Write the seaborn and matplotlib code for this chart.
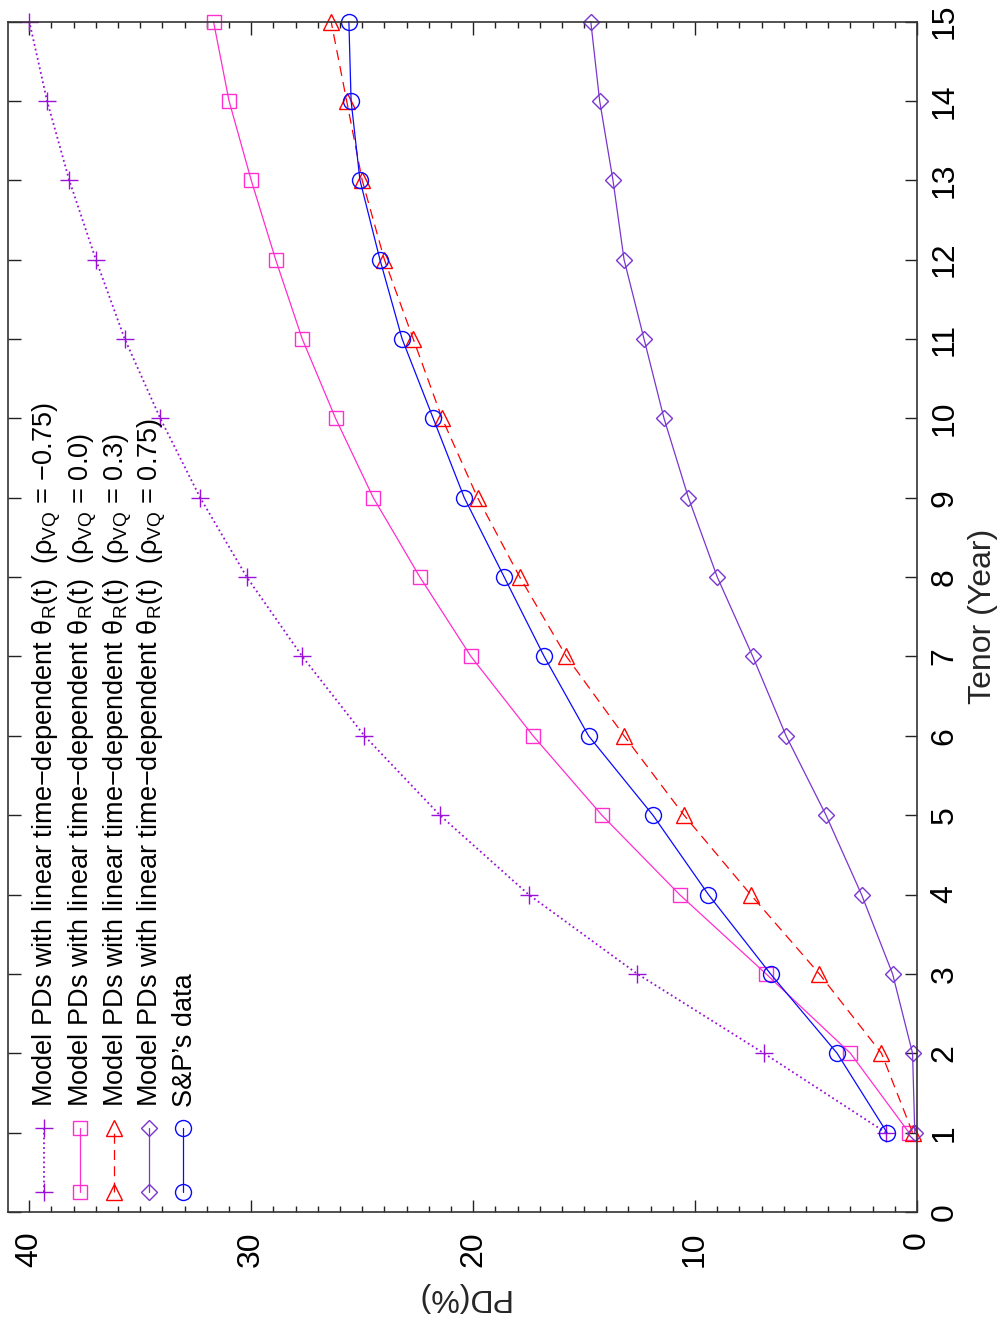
import numpy as np
import pandas as pd
import matplotlib
matplotlib.use("Agg")
import matplotlib.pyplot as plt
from matplotlib.lines import Line2D
from matplotlib.ticker import MultipleLocator
import seaborn as sns

# ---------------- data ----------------
tenor = [1, 2, 3, 4, 5, 6, 7, 8, 9, 10, 11, 12, 13, 14, 15]
pd_rho_m075 = [1.4, 6.9, 12.6, 17.5, 21.5, 24.9, 27.7, 30.2, 32.3, 34.1, 35.7, 37.0, 38.2, 39.2, 40.0]
pd_rho_000 = [0.36, 3.0, 6.8, 10.7, 14.2, 17.3, 20.1, 22.4, 24.5, 26.2, 27.7, 28.9, 30.0, 31.0, 31.7]
pd_rho_030 = [0.2, 1.6, 4.4, 7.5, 10.5, 13.2, 15.8, 17.9, 19.8, 21.4, 22.7, 24.0, 25.0, 25.7, 26.4]
pd_rho_075 = [0.1, 0.2, 1.1, 2.5, 4.1, 5.9, 7.4, 9.0, 10.3, 11.4, 12.3, 13.2, 13.7, 14.3, 14.7]
pd_sp_data = [1.35, 3.6, 6.6, 9.4, 11.9, 14.8, 16.8, 18.6, 20.4, 21.8, 23.2, 24.2, 25.1, 25.5, 25.6]

labels = [
    r"Model PDs with linear time−dependent θ$_{\mathrm{R}}$(t)  (ρ$_{\mathrm{VQ}}$ = −0.75)",
    r"Model PDs with linear time−dependent θ$_{\mathrm{R}}$(t)  (ρ$_{\mathrm{VQ}}$ = 0.0)",
    r"Model PDs with linear time−dependent θ$_{\mathrm{R}}$(t)  (ρ$_{\mathrm{VQ}}$ = 0.3)",
    r"Model PDs with linear time−dependent θ$_{\mathrm{R}}$(t)  (ρ$_{\mathrm{VQ}}$ = 0.75)",
    "S&P’s data",
]
pd_ticks = [0, 10, 20, 30, 40]
tenor_ticks = list(range(0, 16))

# ---------------- style ----------------
sns.set_style("ticks")
plt.rcParams["font.family"] = ["Liberation Sans", "DejaVu Sans"]
plt.rcParams["mathtext.fontset"] = "custom"
plt.rcParams["mathtext.rm"] = "Liberation Sans"
plt.rcParams["mathtext.it"] = "Liberation Sans:italic"
plt.rcParams["mathtext.bf"] = "Liberation Sans:bold"
FS = 23
LFS = 19.5

series = [
    dict(y=pd_rho_m075, color="#9A10D8", marker="+", ls=":", ms=13, lw=1.3),
    dict(y=pd_rho_000, color="#FF2ECF", marker="s", ls="-", ms=10, lw=0.9),
    dict(y=pd_rho_030, color="#FF0000", marker="^", ls=(0, (8, 5)), ms=12, lw=0.9),
    dict(y=pd_rho_075, color="#7B35CF", marker="D", ls="-", ms=8.5, lw=0.9),
    dict(y=pd_sp_data, color="#0A0AFF", marker="o", ls="-", ms=11.5, lw=0.9),
]

W, H = 1003, 1325
fig = plt.figure(figsize=(W / 100, H / 100), dpi=100)
ax = fig.add_axes([8 / W, 1 - 1212 / H, (917 - 8) / W, (1212 - 21.5) / H])

for s in series:
    df = pd.DataFrame({"PD": s["y"], "Tenor": tenor})
    sns.lineplot(data=df, x="PD", y="Tenor", ax=ax, orient="y", sort=False,
                 color=s["color"], marker=s["marker"], linestyle=s["ls"],
                 linewidth=s["lw"], markersize=s["ms"],
                 markerfacecolor="none", markeredgecolor=s["color"],
                 markeredgewidth=1.0, legend=False, clip_on=False)

ax.set_xlim(40.96, 0)
ax.set_ylim(0, 15)
ax.set_xticks(pd_ticks)
ax.set_xticklabels([str(t) for t in pd_ticks], rotation=90, fontsize=FS)
ax.xaxis.set_minor_locator(MultipleLocator(1))
ax.set_yticks(tenor_ticks)
ax.yaxis.tick_right()
ax.yaxis.set_label_position("right")
ax.set_yticklabels([str(t) for t in tenor_ticks], rotation=90, fontsize=FS, va="center")

ax.tick_params(axis="x", which="major", direction="in", length=9, width=1,
               top=True, bottom=True, pad=14, colors="#222222")
ax.tick_params(axis="x", which="minor", direction="in", length=4.5, width=1,
               top=True, bottom=True, colors="#222222")
ax.tick_params(axis="y", which="major", direction="in", length=9, width=1,
               left=True, right=True, pad=9, colors="#222222")
for lbl in ax.get_xticklabels() + ax.get_yticklabels():
    lbl.set_color("black")

for sp in ax.spines.values():
    sp.set_visible(True)
    sp.set_color("#333333")
    sp.set_linewidth(1.2)

ax.set_xlabel("PD(%)", rotation=180, fontsize=FS, labelpad=11)
ax.set_ylabel("Tenor (Year)", rotation=90, fontsize=FS, labelpad=6)

# ---------------- rotated legend (drawn manually) ----------------
leg_x = [44, 80, 114, 149, 183]
y_top, y_bot = 1128, 1192
text_bottom = 1107
for s, lab, px in zip(series, labels, leg_x):
    fx = px / W
    ln = Line2D([fx, fx], [1 - y_bot / H, 1 - y_top / H], transform=fig.transFigure,
                color=s["color"], linestyle=s["ls"], linewidth=s["lw"],
                marker=s["marker"], markersize=s["ms"], markerfacecolor="none",
                markeredgecolor=s["color"], markeredgewidth=1.0)
    fig.add_artist(ln)
    fig.text((px + 9) / W, 1 - text_bottom / H, lab, rotation=90,
             rotation_mode="anchor", ha="left", va="baseline", fontsize=LFS,
             color="black")

fig.savefig("out.png", dpi=100)
